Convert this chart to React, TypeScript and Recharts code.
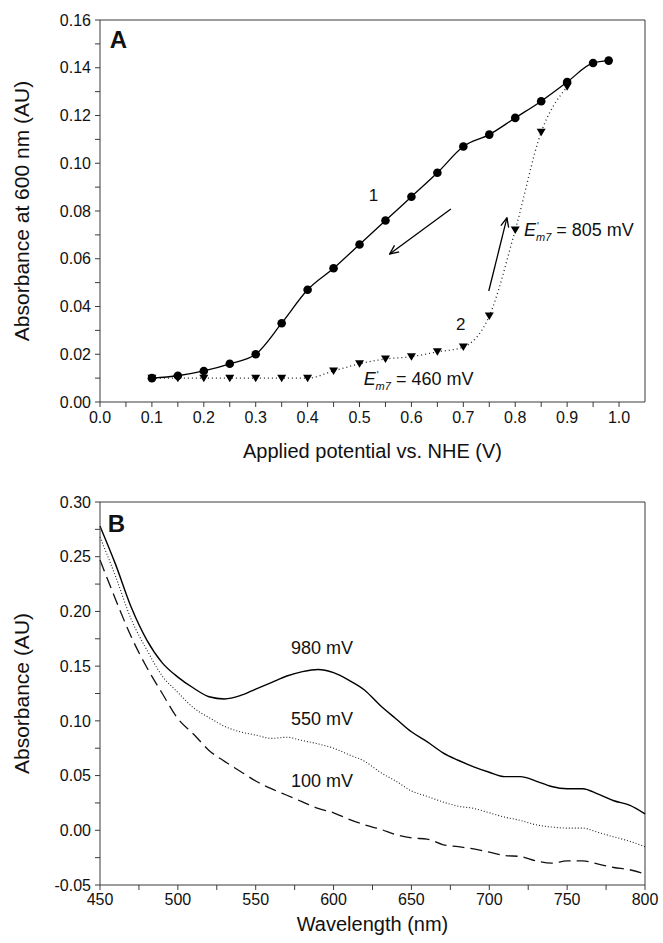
// App.tsx
import React from "react";
import {
  LineChart,
  Line,
  XAxis,
  YAxis,
  ReferenceLine,
  ReferenceDot,
} from "recharts";

// Panel A: absorbance at 600 nm vs applied potential
const potentialOx = [
  0.1, 0.15, 0.2, 0.25, 0.3, 0.35, 0.4, 0.45, 0.5, 0.55, 0.6, 0.65, 0.7, 0.75,
  0.8, 0.85, 0.9, 0.95, 0.98,
];
const absorbanceOx = [
  0.01, 0.011, 0.013, 0.016, 0.02, 0.033, 0.047, 0.056, 0.066, 0.076, 0.086,
  0.096, 0.107, 0.112, 0.119, 0.126, 0.134, 0.142, 0.143,
];
const potentialRed = [
  0.1, 0.15, 0.2, 0.25, 0.3, 0.35, 0.4, 0.45, 0.5, 0.55, 0.6, 0.65, 0.7, 0.75,
  0.8, 0.85, 0.9,
];
const absorbanceRed = [
  0.01, 0.01, 0.01, 0.01, 0.01, 0.01, 0.01, 0.013, 0.016, 0.018, 0.019, 0.021,
  0.023, 0.036, 0.072, 0.113, 0.132,
];
const xTicksA = [
  0, 0.05, 0.1, 0.15, 0.2, 0.25, 0.3, 0.35, 0.4, 0.45, 0.5, 0.55, 0.6, 0.65,
  0.7, 0.75, 0.8, 0.85, 0.9, 0.95, 1.0,
];
const yTicksA = [
  0, 0.01, 0.02, 0.03, 0.04, 0.05, 0.06, 0.07, 0.08, 0.09, 0.1, 0.11, 0.12,
  0.13, 0.14, 0.15, 0.16,
];
// arrows in data units: [x1, y1, x2, y2]
const arrowOx = [0.676, 0.0808, 0.558, 0.062];
const arrowRed = [0.749, 0.0465, 0.784, 0.0771];

// Panel B: spectra
const wavelength = [
  450, 460, 470, 480, 490, 500, 510, 520, 530, 540, 550, 560, 570, 580, 590,
  600, 610, 620, 630, 640, 650, 660, 670, 680, 690, 700, 710, 720, 730, 740,
  750, 760, 770, 780, 790, 800,
];
const spec980 = [
  0.278, 0.243, 0.204, 0.174, 0.153, 0.14, 0.13, 0.122, 0.12, 0.123, 0.129,
  0.135, 0.141, 0.145, 0.147, 0.144, 0.137, 0.128, 0.114, 0.102, 0.09, 0.081,
  0.071, 0.064, 0.058, 0.053, 0.049, 0.049, 0.045, 0.04, 0.038, 0.038, 0.033,
  0.027, 0.023, 0.015,
];
const spec550 = [
  0.268, 0.232, 0.193, 0.165, 0.141, 0.126, 0.112, 0.103, 0.095, 0.09, 0.087,
  0.084, 0.085, 0.082, 0.079, 0.075, 0.069, 0.063, 0.053, 0.045, 0.036, 0.031,
  0.026, 0.022, 0.02, 0.016, 0.012, 0.009, 0.005, 0.003, 0.002, 0.002, -0.002,
  -0.006, -0.01, -0.015,
];
const spec100 = [
  0.247, 0.211, 0.177, 0.149, 0.125, 0.102, 0.088, 0.073, 0.063, 0.054, 0.045,
  0.038, 0.032, 0.026, 0.02, 0.016, 0.01, 0.005, 0.001, -0.004, -0.007, -0.008,
  -0.013, -0.015, -0.017, -0.02, -0.023, -0.024, -0.028, -0.03, -0.028, -0.028,
  -0.031, -0.034, -0.036, -0.04,
];
const xTicksB = [
  450, 475, 500, 525, 550, 575, 600, 625, 650, 675, 700, 725, 750, 775, 800,
];
const yTicksB = [
  -0.05, -0.025, 0, 0.025, 0.05, 0.075, 0.1, 0.125, 0.15, 0.175, 0.2, 0.225,
  0.25, 0.275, 0.3,
];

const FONT = '"Liberation Sans", Arial, Helvetica, sans-serif';
const AX = "#3a3a3a";
const INK = "#111";

const oxData = potentialOx.map((x, i) => ({ x, y: absorbanceOx[i] }));
const redData = potentialRed.map((x, i) => ({ x, y: absorbanceRed[i] }));
const specData = wavelength.map((wl, i) => ({
  wl,
  a980: spec980[i],
  a550: spec550[i],
  a100: spec100[i],
}));

const isMultiple = (v: number, step: number) =>
  Math.abs(v / step - Math.round(v / step)) < 1e-6;

const xTick = (step: number, digits: number) => (props: any) => {
  const { x, y, payload } = props;
  if (!isMultiple(payload.value, step)) return <g />;
  return (
    <text x={x} y={y} dy='0.71em' textAnchor='middle' fontSize={16} fill={INK}>
      {payload.value.toFixed(digits)}
    </text>
  );
};

const yTick = (step: number, digits: number) => (props: any) => {
  const { x, y, payload } = props;
  if (!isMultiple(payload.value, step)) return <g />;
  return (
    <text x={x} y={y} dy='0.355em' textAnchor='end' fontSize={16} fill={INK}>
      {payload.value.toFixed(digits)}
    </text>
  );
};

const Triangle = (props: any) => {
  const { cx, cy } = props;
  if (cx == null || cy == null) return <g />;
  return (
    <path
      d={`M${cx - 4.5},${cy - 3.5} L${cx + 4.5},${cy - 3.5} L${cx},${cy + 4} Z`}
      fill='#000'
    />
  );
};

const plainLabel =
  (text: string, size: number, anchor: string, bold = false) =>
  (props: any) => {
    const { x, y } = props.viewBox;
    return (
      <text
        x={x}
        y={y}
        fontSize={size}
        textAnchor={anchor}
        fontWeight={bold ? "bold" : "normal"}
        fill={INK}
      >
        {text}
      </text>
    );
  };

const emLabel = (value: string) => (props: any) => {
  const { x, y } = props.viewBox;
  return (
    <text x={x} y={y} fontSize={18} fill={INK}>
      <tspan fontStyle='italic'>E</tspan>
      <tspan dx={1} dy={-6} fontSize={10}>
        '
      </tspan>
      <tspan dx={-3} dy={11} fontSize={11} fontStyle='italic'>
        m7
      </tspan>
      <tspan dy={-5}>{` = ${value}`}</tspan>
    </text>
  );
};

const ArrowDefs = () => (
  <defs>
    <marker
      id='arrowHead'
      viewBox='0 0 10 10'
      refX='9'
      refY='5'
      markerWidth='10'
      markerHeight='10'
      markerUnits='userSpaceOnUse'
      orient='auto'
    >
      <path d='M0,1 L9,5 L0,9' fill='none' stroke='#000' strokeWidth='1.3' />
    </marker>
  </defs>
);

const PanelA = () => (
  <LineChart
    width={663}
    height={470}
    margin={{ top: 20, right: 18, bottom: 8, left: 0 }}
  >
    <ArrowDefs />
    <XAxis
      type='number'
      dataKey='x'
      domain={[0, 1.05]}
      ticks={xTicksA}
      interval={0}
      allowDuplicatedCategory={false}
      height={60}
      stroke={AX}
      tickSize={5}
      tickMargin={5}
      tick={xTick(0.1, 1)}
      label={{
        value: "Applied potential vs. NHE (V)",
        position: "center",
        dy: 19,
        fontSize: 20,
        fill: INK,
      }}
    />
    <YAxis
      type='number'
      domain={[0, 0.16]}
      ticks={yTicksA}
      interval={0}
      width={100}
      stroke={AX}
      tickSize={5}
      tickMargin={4}
      tick={yTick(0.02, 2)}
      label={{
        value: "Absorbance at 600 nm (AU)",
        angle: -90,
        position: "center",
        dx: -28,
        fontSize: 21,
        fill: INK,
      }}
    />
    <ReferenceLine y={0.16} stroke={AX} />
    <ReferenceLine x={1.05} stroke={AX} />
    <Line
      data={redData}
      dataKey='y'
      type='monotone'
      stroke='#222'
      strokeWidth={1.3}
      strokeDasharray='1 3'
      dot={<Triangle />}
      activeDot={false}
      isAnimationActive={false}
    />
    <Line
      data={oxData}
      dataKey='y'
      type='monotone'
      stroke='#000'
      strokeWidth={1.3}
      dot={{ r: 4.3, fill: "#000", stroke: "#000", strokeWidth: 0 }}
      activeDot={false}
      isAnimationActive={false}
    />
    <ReferenceLine
      segment={[
        { x: arrowOx[0], y: arrowOx[1] },
        { x: arrowOx[2], y: arrowOx[3] },
      ]}
      stroke='#000'
      strokeWidth={1.3}
      markerEnd='url(#arrowHead)'
    />
    <ReferenceLine
      segment={[
        { x: arrowRed[0], y: arrowRed[1] },
        { x: arrowRed[2], y: arrowRed[3] },
      ]}
      stroke='#000'
      strokeWidth={1.3}
      markerEnd='url(#arrowHead)'
    />
    <ReferenceDot
      x={0.019}
      y={0.1483}
      r={0}
      fill='none'
      stroke='none'
      label={{ content: plainLabel("A", 24, "start", true) }}
    />
    <ReferenceDot
      x={0.527}
      y={0.084}
      r={0}
      fill='none'
      stroke='none'
      label={{ content: plainLabel("1", 17, "middle") }}
    />
    <ReferenceDot
      x={0.695}
      y={0.03}
      r={0}
      fill='none'
      stroke='none'
      label={{ content: plainLabel("2", 17, "middle") }}
    />
    <ReferenceDot
      x={0.817}
      y={0.0695}
      r={0}
      fill='none'
      stroke='none'
      label={{ content: emLabel("805 mV") }}
    />
    <ReferenceDot
      x={0.508}
      y={0.0071}
      r={0}
      fill='none'
      stroke='none'
      label={{ content: emLabel("460 mV") }}
    />
  </LineChart>
);

const PanelB = () => (
  <LineChart
    width={663}
    height={473}
    data={specData}
    margin={{ top: 32, right: 18, bottom: 8, left: 0 }}
  >
    <XAxis
      type='number'
      dataKey='wl'
      domain={[450, 800]}
      ticks={xTicksB}
      interval={0}
      height={50}
      stroke={AX}
      tickSize={5}
      tickMargin={4}
      tick={xTick(50, 0)}
      label={{
        value: "Wavelength (nm)",
        position: "center",
        dy: 14,
        fontSize: 20,
        fill: INK,
      }}
    />
    <YAxis
      type='number'
      domain={[-0.05, 0.3]}
      ticks={yTicksB}
      interval={0}
      width={100}
      stroke={AX}
      tickSize={5}
      tickMargin={4}
      tick={yTick(0.05, 2)}
      label={{
        value: "Absorbance (AU)",
        angle: -90,
        position: "center",
        dx: -28,
        fontSize: 21,
        fill: INK,
      }}
    />
    <ReferenceLine y={0.3} stroke={AX} />
    <ReferenceLine x={800} stroke={AX} />
    <Line
      dataKey='a100'
      type='monotone'
      stroke='#111'
      strokeWidth={1.3}
      strokeDasharray='12 6'
      dot={false}
      activeDot={false}
      isAnimationActive={false}
    />
    <Line
      dataKey='a550'
      type='monotone'
      stroke='#222'
      strokeWidth={1.1}
      strokeDasharray='1 2'
      dot={false}
      activeDot={false}
      isAnimationActive={false}
    />
    <Line
      dataKey='a980'
      type='monotone'
      stroke='#000'
      strokeWidth={1.4}
      dot={false}
      activeDot={false}
      isAnimationActive={false}
    />
    <ReferenceDot
      x={455}
      y={0.273}
      r={0}
      fill='none'
      stroke='none'
      label={{ content: plainLabel("B", 24, "start", true) }}
    />
    <ReferenceDot
      x={592.6}
      y={0.161}
      r={0}
      fill='none'
      stroke='none'
      label={{ content: plainLabel("980 mV", 18, "middle") }}
    />
    <ReferenceDot
      x={592.6}
      y={0.096}
      r={0}
      fill='none'
      stroke='none'
      label={{ content: plainLabel("550 mV", 18, "middle") }}
    />
    <ReferenceDot
      x={592.6}
      y={0.04}
      r={0}
      fill='none'
      stroke='none'
      label={{ content: plainLabel("100 mV", 18, "middle") }}
    />
  </LineChart>
);

const App = () => (
  <div
    style={{
      position: "absolute",
      left: 0,
      top: 0,
      width: 663,
      height: 943,
      background: "#fff",
      fontFamily: FONT,
    }}
  >
    <div style={{ position: "absolute", left: 0, top: 0 }}>
      <PanelA />
    </div>
    <div style={{ position: "absolute", left: 0, top: 470 }}>
      <PanelB />
    </div>
  </div>
);

export default App;
